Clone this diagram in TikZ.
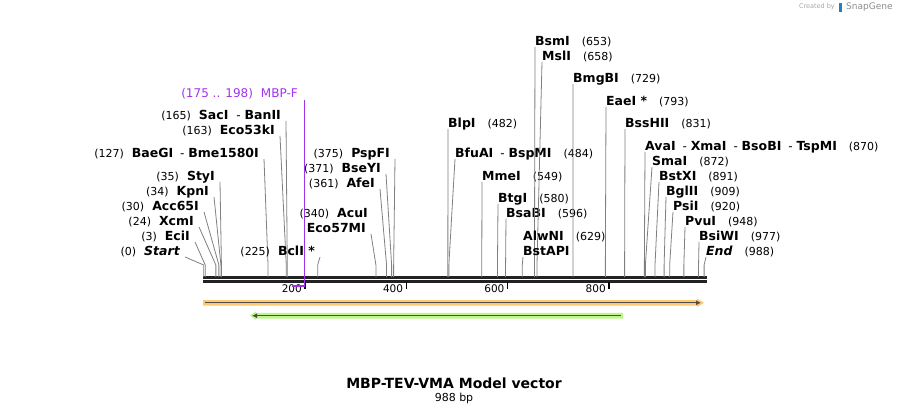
\documentclass[tikz,border=0pt]{standalone}
\usepackage{fontspec}
\setmainfont{DejaVu Sans}
\usetikzlibrary{arrows.meta}

\definecolor{sitegray}{RGB}{128,128,128}
\definecolor{primer}{RGB}{160,50,240}
\definecolor{featorange}{RGB}{255,200,110}
\definecolor{featgreen}{RGB}{190,245,140}
\definecolor{bbone}{RGB}{34,34,34}

\newcommand{\bpnum}[1]{{\fontsize{11}{13}\selectfont(#1)}}
\newcommand{\enz}[1]{{\fontsize{12.5}{14}\selectfont\bfseries #1}}
\newcommand{\lgap}{\hspace{8pt}}
\newcommand{\rgap}{\hspace{12pt}}

\begin{document}
\begin{tikzpicture}[x=1pt,y=-1pt,
    every node/.style={font=\fontsize{12}{14}\selectfont, inner sep=0pt},
    leftlab/.style={anchor=east, text height=9pt, text depth=2.5pt},
    rightlab/.style={anchor=west, text height=9pt, text depth=2.5pt},
    site/.style={draw=sitegray, line width=0.8pt},
    backbone/.style={draw=bbone, line width=2.4pt},
    tickmark/.style={draw=black, line width=1.5pt},
    featline/.style={draw=black!70, line width=1.3pt}]
  \useasboundingbox (0,0) rectangle (910,415);

  \draw[backbone] (203,277.5) -- (707,277.5)  (203,281.5) -- (707,281.5);

  \foreach \bp in {200,400,600,800}
  {
    \coordinate (T\bp) at ({203.7+0.5065*\bp},282);
    \draw[tickmark] (T\bp) -- ++(0,7);
    \node[anchor=east, font=\fontsize{10.5}{12}\selectfont] (TL\bp) at ([xshift=-3pt,yshift=-7pt]T\bp) {\bp};
  }

  \foreach \bp/\lx/\ly/\txt in {0/180/252/{\bpnum{0}\lgap{\fontsize{12.5}{14}\selectfont\bfseries\itshape Start}},
      3/190/237/{\bpnum{3}\lgap\enz{EciI}},
      24/194/222/{\bpnum{24}\lgap\enz{XcmI}},
      30/199/207/{\bpnum{30}\lgap\enz{Acc65I}},
      34/209/192/{\bpnum{34}\lgap\enz{KpnI}},
      35/215/177/{\bpnum{35}\lgap\enz{StyI}},
      127/259/154/{\bpnum{127}\lgap\enz{BaeGI}\hspace{7pt}- \enz{Bme1580I}},
      163/275/131/{\bpnum{163}\lgap\enz{Eco53kI}},
      165/281/116/{\bpnum{165}\lgap\enz{SacI}\hspace{8pt}- \enz{BanII}},
      225/315/252/{\bpnum{225}\lgap\enz{BclI *}},
      361/375/184/{\bpnum{361}\lgap\enz{AfeI}},
      371/381/169/{\bpnum{371}\lgap\enz{BseYI}},
      375/390/154/{\bpnum{375}\lgap\enz{PspFI}}}
  {
    \node[leftlab] (L\bp) at (\lx,\ly) {\txt};
    \coordinate (S\bp) at ({203.7+0.5065*\bp},265);
    \draw[site] ([xshift=5pt,yshift=1pt]L\bp.south east) -- (S\bp) -- ++(0,12);
  }

  \node[leftlab] (L340) at (368,214) {\bpnum{340}\lgap\enz{AcuI}};
  \node[leftlab] (L340b) at (366,229) {\enz{Eco57MI}};
  \coordinate (S340) at ({203.7+0.5065*340},265);
  \draw[site] ([xshift=5pt,yshift=1pt]L340b.south east) -- (S340) -- ++(0,12);

  \foreach \bp/\lx/\ly/\txt in {482/448/124/{\enz{BlpI}\rgap\bpnum{482}},
      484/455/154/{\enz{BfuAI}\hspace{7pt}- \enz{BspMI}\rgap\bpnum{484}},
      549/482/177/{\enz{MmeI}\rgap\bpnum{549}},
      580/498/199/{\enz{BtgI}\rgap\bpnum{580}},
      596/506/214/{\enz{BsaBI}\rgap\bpnum{596}},
      653/535/42/{\enz{BsmI}\rgap\bpnum{653}},
      658/542/57/{\enz{MslI}\rgap\bpnum{658}},
      729/573/79/{\enz{BmgBI}\rgap\bpnum{729}},
      793/606/102/{\enz{EaeI *}\rgap\bpnum{793}},
      831/625/124/{\enz{BssHII}\rgap\bpnum{831}},
      870/645/147/{\enz{AvaI}\hspace{7pt}- \enz{XmaI}\hspace{7pt}- \enz{BsoBI}\hspace{7pt}- \enz{TspMI}\rgap\bpnum{870}},
      872/652/162/{\enz{SmaI}\rgap\bpnum{872}},
      891/659/177/{\enz{BstXI}\rgap\bpnum{891}},
      909/666/192/{\enz{BglII}\rgap\bpnum{909}},
      920/673/207/{\enz{PsiI}\rgap\bpnum{920}},
      948/685/222/{\enz{PvuI}\rgap\bpnum{948}},
      977/699/237/{\enz{BsiWI}\rgap\bpnum{977}},
      988/706/252/{{\fontsize{12.5}{14}\selectfont\bfseries\itshape End}\rgap\bpnum{988}}}
  {
    \node[rightlab] (R\bp) at (\lx,\ly) {\txt};
    \coordinate (S\bp) at ({203.7+0.5065*\bp},265);
    \draw[site] ([yshift=1pt]R\bp.south west) -- (S\bp) -- ++(0,12);
  }

  \node[rightlab] (R629) at (523,237) {\enz{AlwNI}\rgap\bpnum{629}};
  \node[rightlab] (R629b) at (523,252) {\enz{BstAPI}};
  \coordinate (S629) at ({203.7+0.5065*629},265);
  \draw[site] ([yshift=1pt]R629b.south west) -- (S629) -- ++(0,12);

  % primer
  \node[leftlab, text=primer] (MBPF) at (298,94) {(175 .. 198)\hspace{8pt}MBP-F};
  \coordinate (P1) at (304.5,100);
  \coordinate (P2) at (292,286);
  \draw[primer, line width=1.3pt] (P1) -- (P1 |- P2) -- (P2);

  % features
  \filldraw[fill=featorange, draw=none] (203,300) -- (697,300) -- (697,298.5) -- (704,302.8)
    -- (697,307) -- (697,305.7) -- (203,305.7) --cycle;
  \draw[featline, -{Latex[length=5pt,width=5pt]}] (205,302.8) -- (701,302.8);
  \filldraw[fill=featgreen, draw=none] (623,312.8) -- (256,312.8) -- (256,311.3) -- (250,315.7)
    -- (256,320) -- (256,318.6) -- (623,318.6) --cycle;
  \draw[featline, -{Latex[length=5pt,width=5pt]}] (621,315.7) -- (252,315.7);

  \node[font=\fontsize{14}{16}\selectfont\bfseries] (title) at (454,383) {MBP-TEV-VMA Model vector};
  \node[font=\fontsize{11}{13}\selectfont] (size) at (454,398) {988 bp};

  \node[anchor=east, text=black!35, font=\fontsize{6.5}{8}\selectfont] (credit) at (835,7) {Created by};
  \fill[black!15!cyan!70!blue] (839,2.5) rectangle (842,11.5);
  \node[anchor=west, text=black!45, font=\fontsize{9}{10}\selectfont] (sg) at (846,7) {SnapGene};
\end{tikzpicture}
\end{document}
